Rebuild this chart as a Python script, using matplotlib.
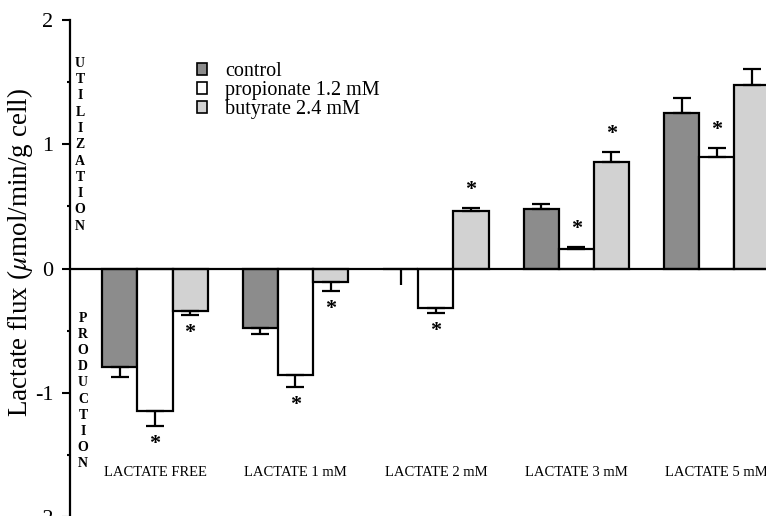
import numpy as np
import matplotlib
matplotlib.use("Agg")
import matplotlib.pyplot as plt
from matplotlib.patches import Patch

plt.rcParams["font.family"] = ["Liberation Serif", "DejaVu Serif"]
plt.rcParams["mathtext.fontset"] = "stix"
plt.rcParams["axes.unicode_minus"] = False

# ---- Data -------------------------------------------------------------------
groups = ["LACTATE FREE", "LACTATE 1 mM", "LACTATE 2 mM", "LACTATE 3 mM", "LACTATE 5 mM"]
series = ["control", "propionate 1.2 mM", "butyrate 2.4 mM"]

control    = [-0.79, -0.48, -0.005, 0.48, 1.25]
propionate = [-1.15, -0.86, -0.32, 0.16, 0.90]
butyrate   = [-0.34, -0.11, 0.46, 0.86, 1.48]

err_control    = [0.08, 0.05, 0.13, 0.04, 0.12]
err_propionate = [0.12, 0.09, 0.04, 0.01, 0.07]
err_butyrate   = [0.03, 0.07, 0.03, 0.08, 0.13]

sig_control    = [0, 0, 0, 0, 0]
sig_propionate = [1, 1, 1, 1, 1]
sig_butyrate   = [1, 1, 1, 1, 0]

# ---- Style ------------------------------------------------------------------
colors = ["#8c8c8c", "#ffffff", "#d2d2d2"]
width = 0.25

fig = plt.figure(figsize=(7.66, 5.16), dpi=100)
ax = fig.add_axes([0.0914, -0.002, 0.9086, 0.963])

x = np.arange(len(groups))
data = [(control, err_control, sig_control),
        (propionate, err_propionate, sig_propionate),
        (butyrate, err_butyrate, sig_butyrate)]

for i, (vals, errs, sigs) in enumerate(data):
    xs = x + (i - 1) * width
    ax.bar(xs, vals, width=width, color=colors[i], edgecolor="black",
           linewidth=1.6, zorder=2)
    for xi, v, e, s in zip(xs, vals, errs, sigs):
        sign = 1 if v >= 0 else -1
        yerr = [[0], [e]] if sign > 0 else [[e], [0]]
        cap = 0 if abs(v) < 0.02 else 6.8
        ax.errorbar(xi, v, yerr=yerr, fmt="none", ecolor="black",
                    elinewidth=1.6, capsize=cap, capthick=1.6, zorder=3)
        if s:
            ax.annotate("*", (xi, v + sign * e), xytext=(0, sign * 13),
                        textcoords="offset points", ha="center",
                        va="center", fontsize=16, fontweight="bold")

ax.axhline(0, color="black", lw=1.6, zorder=4)

for xi, name in zip(x, groups):
    ax.text(xi, -1.64, name, ha="center", va="center", fontsize=10.5)

ax.text(-0.534, 1.705, "\n".join("UTILIZATION"), ha="center", va="top",
        fontsize=10, fontweight="bold", linespacing=1.33)
ax.text(-0.512, -0.35, "\n".join("PRODUCTION"), ha="center", va="top",
        fontsize=10, fontweight="bold", linespacing=1.31)

ax.set_xlim(-0.605, 4.35)
ax.set_ylim(-2, 2)
ax.set_yticks([-2, -1, 0, 1, 2])
ax.set_yticks(np.arange(-2, 2.01, 0.5), minor=True)
ax.set_xticks([])
ax.tick_params(axis="y", which="major", labelsize=16, length=6, width=1.5, pad=6)
ax.tick_params(axis="y", which="minor", length=2.5, width=1.5)
for side in ["top", "right", "bottom"]:
    ax.spines[side].set_visible(False)
ax.spines["left"].set_linewidth(1.6)
ax.set_ylabel(r"Lactate flux ($\mu$mol/min/g cell)", fontsize=19.5, va="center")
ax.yaxis.set_label_coords(-0.072, 0.532)

handles = [Patch(facecolor=c, edgecolor="black", linewidth=1.2) for c in colors]
ax.legend(handles, series, loc="upper left", bbox_to_anchor=(0.168, 0.936),
          frameon=False, fontsize=14.5, handlelength=0.5, handleheight=0.5,
          handletextpad=0.9, labelspacing=0.0, borderpad=0)

fig.savefig("out.png", dpi=100)
